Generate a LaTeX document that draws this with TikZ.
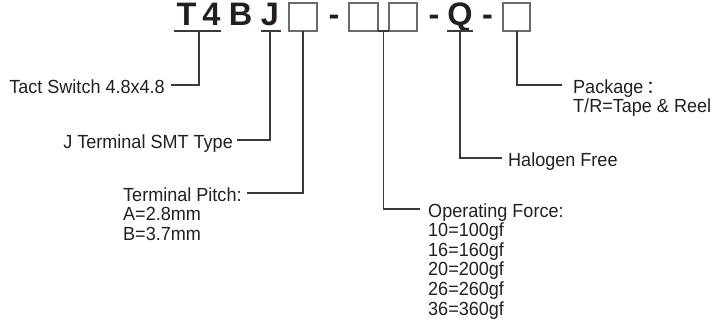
\documentclass[tikz,border=0pt]{standalone}
\usepackage{fontspec}
\setmainfont{Liberation Sans}
\newfontfamily\lblfont[FakeStretch=0.95]{Liberation Sans}
\newfontfamily\cjkfont{Noto Sans CJK SC}
\definecolor{ink}{HTML}{231F20}
\definecolor{wire}{HTML}{3A3A3A}
\definecolor{boxc}{HTML}{6A6A6A}
\begin{document}
\begin{tikzpicture}[x=1pt,y=-1pt,
  hdr/.style={font=\fontsize{32.5}{32.5}\selectfont\bfseries, text=ink, inner sep=0pt, anchor=base},
  lbl/.style={font=\lblfont\fontsize{19}{19.6}\selectfont, text=ink, inner sep=0pt},
  wirel/.style={draw=wire, line width=1.1pt},
  codebox/.style={draw=boxc, line width=1.2pt, fill=white}]
\useasboundingbox (0,0) rectangle (714,324);
% header characters
\node[hdr] (cT) at (186.5,25.5) {T};
\node[hdr] (c4) at (211.5,25.5) {4};
\node[hdr] (cB) at (240.5,25.5) {B};
\node[hdr] (cJ) at (270,25.5) {J};
\node[hdr] (d1) at (334,25.5) {-};
\node[hdr] (d2) at (434,25.5) {-};
\node[hdr] (cQ) at (460,25.5) {Q};
\node[hdr] (d3) at (487.5,25.5) {-};
% boxes
\draw[codebox] (289,3) rectangle (317,31);
\draw[codebox] (349,3) rectangle (378,31);
\draw[codebox] (389,3) rectangle (417,31);
\draw[codebox] (503,3) rectangle (530,31);
\draw[wirel] (378,31) -- (389,31);
% underlines
\draw[wirel] (174,31) -- (221,31);
\draw[wirel] (261,31) -- (281,31);
\draw[wirel] (447,31) -- (473,31);
% anchor points on the code
\coordinate (m1) at (199,31);
\coordinate (m2) at (270,31);
\coordinate (m3) at (303,31);
\coordinate (m4) at (383.5,31);
\coordinate (m5) at (460,31);
\coordinate (m6) at (517,31);
% labels
\node[lbl, anchor=base east] (tact) at (165,93) {Tact Switch 4.8x4.8};
\node[lbl, anchor=base east] (jterm) at (233,148) {J Terminal SMT Type};
\node[lbl, anchor=base west] (pitch) at (123,201)
  {\begin{tabular}[t]{@{}l@{}}Terminal Pitch:\\A=2.8mm\\B=3.7mm\end{tabular}};
\node[lbl, anchor=base west] (force) at (428,217)
  {\begin{tabular}[t]{@{}l@{}}Operating Force:\\10=100gf\\16=160gf\\20=200gf\\26=260gf\\36=360gf\end{tabular}};
\node[lbl, anchor=base west] (halo) at (508,166) {Halogen Free};
\node[lbl, anchor=base west] (pack) at (573,93)
  {\begin{tabular}[t]{@{}l@{}}Package\hspace{3pt}{\cjkfont\fontsize{18}{18}\selectfont ：}\\T/R=Tape \& Reel\end{tabular}};
% connector ends
\coordinate (e1) at (171,85);
\coordinate (e2) at (237,140);
\coordinate (e3) at (247,193);
\coordinate (e4) at (420,209);
\coordinate (e5) at (502,158);
\coordinate (e6) at (562,85);
% connectors
\draw[wirel] (m1) |- (e1);
\draw[wirel] (m2) |- (e2);
\draw[wirel] (m3) |- (e3);
\draw[wirel] (m4) |- (e4);
\draw[wirel] (m5) |- (e5);
\draw[wirel] (m6) |- (e6);
\end{tikzpicture}
\end{document}
